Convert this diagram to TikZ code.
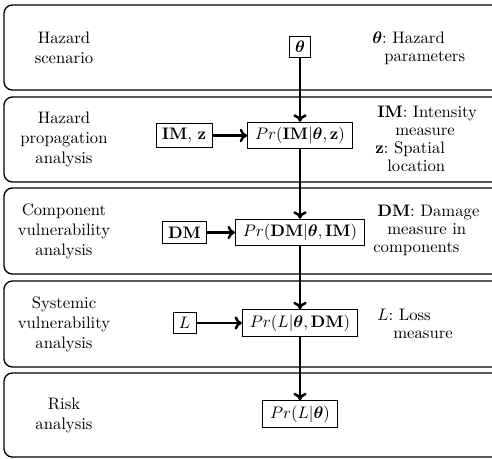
\documentclass[tikz,border=0pt]{standalone}
\usepackage{amsmath}
\usepackage{bm}
\usetikzlibrary{arrows.meta}

\begin{document}
\begin{tikzpicture}[
  x=0.6pt, y=-0.6pt,
  panel/.style={draw, line width=0.8pt, rounded corners=5pt},
  stage/.style={align=center, font=\fontsize{10}{12}\selectfont},
  varbox/.style={draw, line width=0.5pt, inner xsep=4.5pt, inner ysep=3pt, font=\fontsize{10}{12}\selectfont},
  inbox/.style={varbox, inner xsep=3.5pt},
  note/.style={align=left, inner sep=0pt, anchor=north west,
               font=\fontsize{10}{10.8}\selectfont},
  flow/.style={line width=1.5pt, -{To[length=4.5pt,width=8pt]}},
]
\useasboundingbox (0,0) rectangle (492,458);
\clip (0,0) rectangle (492,458);

% stage panels (they run past the right edge)
\draw[panel] (4,5)   rectangle (520,90);
\draw[panel] (4,97)  rectangle (520,182);
\draw[panel] (4,188) rectangle (520,274);
\draw[panel] (4,281) rectangle (520,367);
\draw[panel] (4,373) rectangle (520,457);

% stage names
\node[stage] (s1) at (64,47.5) {Hazard\\scenario};
\node[stage] (s2) at (64,139.5) {Hazard\\propagation\\analysis};
\node[stage] (s3) at (64,231) {Component\\vulnerability\\analysis};
\node[stage] (s4) at (64,324) {Systemic\\vulnerability\\analysis};
\node[stage] (s5) at (64,415) {Risk\\analysis};

% variables and probability models
\node[inbox]  (theta) at (300,47) {$\bm{\theta}$};
\node[varbox] (pim)   at (300,135.5) {$Pr(\mathbf{IM}|\bm{\theta},\mathbf{z})$};
\node[inbox]  (imz)   at (184,135.5) {$\mathbf{IM},\,\mathbf{z}$};
\node[varbox] (pdm)   at (300,232.5) {$Pr(\mathbf{DM}|\bm{\theta},\mathbf{IM})$};
\node[inbox]  (dm)    at (184.5,232.5) {$\mathbf{DM}$};
\node[varbox] (pl)    at (300,323) {$Pr(L|\bm{\theta},\mathbf{DM})$};
\node[inbox]  (loss)  at (184.5,323) {$L$};
\node[varbox] (risk)  at (300,414) {$Pr(L|\bm{\theta})$};

% definitions of the variables
\node[note] (n1) at (372,31.5) {$\bm{\theta}$:\ Hazard\\\hspace*{7.2pt}parameters};
\node[note] (n2) at (375,105.5) {\hspace*{1.2pt}$\mathbf{IM}$:\ Intensity\\\hspace*{12pt}measure\\$\mathbf{z}$:\ Spatial\\\hspace*{7.2pt}location};
\node[note] (n3) at (373,204.5) {\hspace*{2.4pt}$\mathbf{DM}$:\ Damage\\\hspace*{8.4pt}measure in\\components};
\node[note] (n4) at (377,309) {$L$:\ Loss\\\hspace*{9.6pt}measure};

% main chain
\draw[flow] (theta) -- (pim);
\draw[flow] (pim) -- (pdm);
\draw[flow] (pdm) -- (pl);
\draw[flow] (pl) -- (risk);

% inputs
\draw[flow] (imz) -- (pim);
\draw[flow] (dm) -- (pdm);
\draw[flow] (loss) -- (pl);
\end{tikzpicture}
\end{document}
